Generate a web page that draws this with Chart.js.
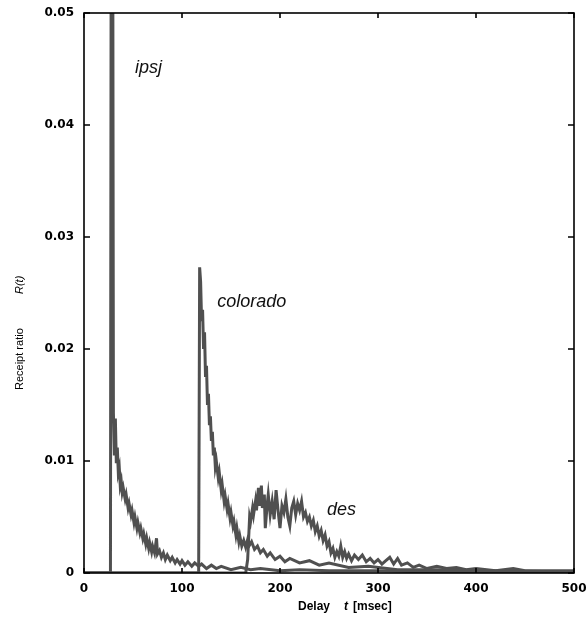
<!DOCTYPE html>
<html>
<head>
<meta charset="utf-8">
<script src="https://cdn.jsdelivr.net/npm/chart.js@4"></script>
<style>
	html, body { margin: 0; padding: 0; background: #fff; }
	#wrap { width: 586px; height: 617px; }
</style>
</head>
<body>
<div id="wrap"><canvas id="chart" width="586" height="617"></canvas></div>
<script>
// delay t [msec] and receipt ratio R(t)
const ipsjT = [0, 27, 28, 29, 30, 31, 32, 33, 34, 35, 36, 37, 38, 39, 40, 42, 43, 45, 46, 48, 49, 51, 52, 54, 55, 57, 58, 60, 61, 63, 64, 66, 67, 69, 70, 72, 74, 75, 77, 79, 81, 83, 85, 88, 90, 93, 95, 98, 100, 103, 106, 110, 113, 117, 120, 125, 130, 135, 140, 150, 160, 170, 180, 200, 220, 250, 300, 350, 400, 500];
const ipsjR = [0, 0, 0.08, 0.08, 0.0143, 0.0105, 0.0138, 0.0098, 0.0112, 0.0090, 0.0094, 0.0078, 0.0082, 0.0072, 0.0076, 0.0066, 0.0070, 0.0058, 0.0062, 0.0052, 0.0056, 0.0045, 0.0050, 0.0040, 0.0045, 0.0036, 0.0040, 0.0031, 0.0035, 0.0026, 0.0031, 0.0022, 0.0027, 0.0019, 0.0024, 0.0018, 0.0031, 0.0017, 0.0020, 0.0014, 0.0018, 0.0012, 0.0016, 0.0011, 0.0014, 0.0009, 0.0012, 0.0008, 0.0011, 0.0007, 0.0010, 0.0006, 0.0009, 0.0006, 0.0008, 0.0004, 0.0007, 0.0004, 0.0006, 0.0003, 0.0005, 0.0003, 0.0004, 0.0002, 0.0003, 0.0002, 0.0002, 0.0001, 0.0001, 0.0001];

const coloradoT = [0, 117, 118, 119, 120, 121, 122, 123, 124, 125, 126, 127, 128, 129, 130, 131, 132, 133, 134, 135, 137, 138, 140, 141, 143, 144, 146, 147, 149, 150, 152, 153, 155, 156, 158, 159, 161, 163, 165, 167, 169, 171, 174, 177, 180, 183, 187, 190, 195, 200, 205, 210, 220, 230, 240, 250, 270, 290, 320, 360, 420, 500];
const coloradoR = [0, 0, 0.0273, 0.0260, 0.0225, 0.0235, 0.0200, 0.0215, 0.0175, 0.0185, 0.0150, 0.0160, 0.0132, 0.0140, 0.0118, 0.0126, 0.0105, 0.0112, 0.0095, 0.0100, 0.0085, 0.0090, 0.0074, 0.0079, 0.0064, 0.0069, 0.0057, 0.0062, 0.0049, 0.0054, 0.0042, 0.0046, 0.0034, 0.0040, 0.0028, 0.0033, 0.0024, 0.0029, 0.0023, 0.0030, 0.0025, 0.0028, 0.0021, 0.0024, 0.0018, 0.0021, 0.0015, 0.0018, 0.0012, 0.0015, 0.0010, 0.0013, 0.0009, 0.0011, 0.0007, 0.0009, 0.0005, 0.0006, 0.0003, 0.0003, 0.0002, 0.0001];

const desT = [0, 165, 167, 169, 170, 172, 173, 175, 176, 178, 179, 181, 182, 184, 185, 187, 188, 190, 192, 194, 196, 198, 200, 202, 204, 206, 208, 210, 212, 214, 216, 218, 220, 222, 224, 226, 228, 230, 232, 234, 236, 238, 240, 242, 244, 246, 248, 250, 252, 254, 256, 258, 260, 262, 264, 266, 268, 270, 273, 276, 280, 284, 288, 292, 296, 300, 304, 308, 312, 316, 320, 324, 330, 336, 342, 350, 360, 370, 380, 390, 400, 420, 438, 450, 470, 500];
const desR = [0, 0, 0.0012, 0.0050, 0.0046, 0.0058, 0.0052, 0.0064, 0.0056, 0.0076, 0.0060, 0.0078, 0.0058, 0.0070, 0.0040, 0.0062, 0.0070, 0.0052, 0.0064, 0.0048, 0.0074, 0.0056, 0.0040, 0.0060, 0.0054, 0.0066, 0.0050, 0.0042, 0.0058, 0.0064, 0.0052, 0.0062, 0.0056, 0.0064, 0.0050, 0.0054, 0.0046, 0.0050, 0.0042, 0.0047, 0.0037, 0.0042, 0.0033, 0.0038, 0.0029, 0.0034, 0.0024, 0.0028, 0.0018, 0.0022, 0.0014, 0.0019, 0.0015, 0.0024, 0.0014, 0.0019, 0.0013, 0.0017, 0.0011, 0.0016, 0.0012, 0.0016, 0.0010, 0.0013, 0.0009, 0.0012, 0.0008, 0.0011, 0.0014, 0.0008, 0.0013, 0.0007, 0.0009, 0.0005, 0.0007, 0.0004, 0.0006, 0.0004, 0.0005, 0.0003, 0.0004, 0.0002, 0.0004, 0.0002, 0.0002, 0.0002];

const seriesNames = ["ipsj", "colorado", "des"];
// where each curve name is written, in data units
const nameAt = [[52, 0.0451], [136, 0.0242], [248, 0.0056]];

const xTicks = [0, 100, 200, 300, 400, 500];
const yTicks = [0, 0.01, 0.02, 0.03, 0.04, 0.05];

function toPoints(ts, rs) {
	return ts.map(function(t, i) { return {x: t, y: rs[i]}; });
}

function lineSet(label, ts, rs) {
	return {
		label: label,
		data: toPoints(ts, rs),
		borderColor: "#505050",
		borderWidth: 3,
		pointRadius: 0,
		tension: 0,
		fill: false
	};
}

// box round the plot, ticks pointing inwards, tick labels, names and axis titles
const decorations = {
	id: "decorations",
	afterDatasetsDraw(chart) {
		const ctx = chart.ctx;
		const a = chart.chartArea;
		const xs = chart.scales.x, ys = chart.scales.y;
		ctx.save();
		ctx.strokeStyle = "#000";
		ctx.lineWidth = 1.6;
		ctx.strokeRect(a.left, a.top, a.right - a.left, a.bottom - a.top);
		ctx.beginPath();
		for(const v of xTicks) {
			const px = xs.getPixelForValue(v);
			ctx.moveTo(px, a.top); ctx.lineTo(px, a.top + 5);
			ctx.moveTo(px, a.bottom); ctx.lineTo(px, a.bottom - 5);
		}
		for(const v of yTicks) {
			const py = ys.getPixelForValue(v);
			ctx.moveTo(a.left, py); ctx.lineTo(a.left + 6, py);
			ctx.moveTo(a.right, py); ctx.lineTo(a.right - 6, py);
		}
		ctx.stroke();

		// tick labels
		ctx.fillStyle = "#000";
		ctx.font = "bold 12px 'DejaVu Sans'";
		ctx.textBaseline = "middle";
		ctx.textAlign = "center";
		for(const v of xTicks)
			ctx.fillText(String(v), xs.getPixelForValue(v), a.bottom + 16);
		ctx.textAlign = "right";
		for(const v of yTicks)
			ctx.fillText(v === 0 ? "0" : v.toFixed(2), a.left - 10, ys.getPixelForValue(v));

		ctx.fillStyle = "#111";
		ctx.font = "italic 18px 'Liberation Sans'";
		ctx.textAlign = "left";
		seriesNames.forEach(function(n, i) {
			ctx.fillText(n, xs.getPixelForValue(nameAt[i][0]), ys.getPixelForValue(nameAt[i][1]));
		});

		// x title
		ctx.fillStyle = "#000";
		ctx.font = "bold 12px 'Liberation Sans'";
		ctx.fillText("Delay", 298, 607);
		ctx.font = "italic bold 12px 'Liberation Sans'";
		ctx.fillText("t", 344, 607);
		ctx.font = "bold 12px 'Liberation Sans'";
		ctx.fillText("[msec]", 353, 607);

		// y title
		ctx.translate(20, 390);
		ctx.rotate(-Math.PI / 2);
		ctx.font = "11px 'Liberation Sans'";
		ctx.fillText("Receipt ratio", 0, 0);
		ctx.font = "italic 11px 'Liberation Sans'";
		ctx.fillText("R(t)", 96, 0);
		ctx.restore();
	}
};

new Chart(document.getElementById("chart").getContext("2d"), {
	type: "line",
	data: {
		datasets: [
			lineSet(seriesNames[0], ipsjT, ipsjR),
			lineSet(seriesNames[1], coloradoT, coloradoR),
			lineSet(seriesNames[2], desT, desR)
		]
	},
	options: {
		responsive: false,
		animation: false,
		devicePixelRatio: 1,
		layout: { padding: { top: 13, right: 12, left: 0, bottom: 0 } },
		plugins: {
			legend: { display: false },
			tooltip: { enabled: false }
		},
		scales: {
			x: {
				type: "linear",
				min: 0,
				max: 500,
				afterFit: function(s) { s.height = 44; },
				grid: { display: false, drawTicks: false },
				border: { display: false },
				ticks: { display: false }
			},
			y: {
				type: "linear",
				min: 0,
				max: 0.05,
				afterFit: function(s) { s.width = 84; },
				grid: { display: false, drawTicks: false },
				border: { display: false },
				ticks: { display: false }
			}
		}
	},
	plugins: [decorations]
});
</script>
</body>
</html>
